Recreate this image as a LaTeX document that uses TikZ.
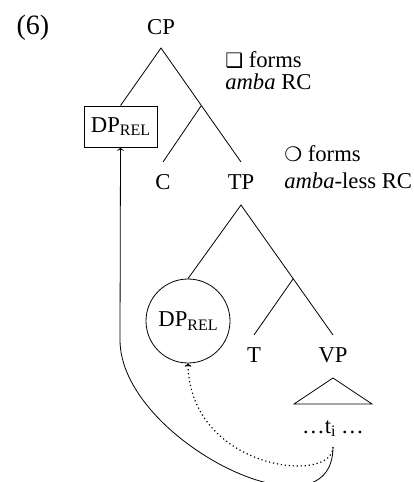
\documentclass[tikz,border=0pt]{standalone}
\usepackage{fontspec}
\setmainfont{Liberation Serif}
\newfontfamily\dingfont{DejaVu Sans}
\usetikzlibrary{arrows.meta}
\newcommand\subsm[1]{\raisebox{-2.8pt}{\fontsize{12}{12}\selectfont #1}}
\begin{document}
\begin{tikzpicture}[x=0.75pt,y=-0.75pt,
  font=\fontsize{17}{20}\selectfont,
  lbl/.style={inner sep=0pt, anchor=base},
  note/.style={inner sep=0pt, anchor=base west},
  br/.style={line width=0.6pt},
  mv/.style={line width=0.6pt, -{To[length=2.5pt,width=5pt]}},
  dots/.style={line width=0.9pt, dash pattern=on 0.9pt off 2.1pt},
]
\useasboundingbox (0,0) rectangle (414,482);
\clip (0,0) rectangle (414,482);

% labels
\node[lbl, font=\fontsize{21}{24}\selectfont] (ex) at (33,34) {(6)};
\node[lbl] (cp) at (161,34) {CP};
\node[draw, line width=0.6pt, inner sep=0pt, minimum width=54.75pt, minimum height=30.75pt] (box) at (120.5,126.5) {DP\subsm{REL}};
\node[lbl] (c) at (163,189) {C};
\node[lbl] (tp) at (241,189) {TP};
\node[draw, circle, line width=0.6pt, inner sep=0pt, minimum size=63pt] (circ) at (188,321) {DP\subsm{REL}};
\node[lbl] (t) at (254,362) {T};
\node[lbl] (vp) at (333,362) {VP};
\node[lbl] (ti) at (333,433) {\dots t\subsm{i} \dots};

% annotations
\node[note] (a1) at (225,67) {{\dingfont\fontsize{15}{15}\selectfont ❑} forms};
\node[note] (a2) at (225,89) {\textit{amba} RC};
\node[note] (b1) at (284,161) {{\dingfont\fontsize{15}{15}\selectfont ❍} forms};
\node[note] (b2) at (284,188) {\textit{amba}-less RC};

% branch points
\coordinate (cpapex) at (161,48);
\coordinate (cbar) at (201,106);
\coordinate (ctop) at (163,162);
\coordinate (tptop) at (241,162);
\coordinate (tpapex) at (241,205);
\coordinate (tbar) at (293,279);
\coordinate (ttop) at (254,335);
\coordinate (vptop) at (333,335);
\coordinate (triA) at (333,378);
\coordinate (triL) at (294,404);
\coordinate (triR) at (372,404);
\coordinate (tibot) at (333,447);

% tree
\draw[br] (box.north) -- (cpapex) -- (tptop);
\draw[br] (cbar) -- (ctop);
\draw[br] (circ.north) -- (tpapex) -- (vptop);
\draw[br] (tbar) -- (ttop);
\draw[br] (triA) -- (triL) -- (triR) -- cycle;

% movement
\draw[mv] (tibot) .. controls (333,545) and (120,440) .. (120,340) -- (box.south);
\draw[mv, dots] (tibot) .. controls (333,485) and (190,470) .. (circ.south);
\end{tikzpicture}
\end{document}
